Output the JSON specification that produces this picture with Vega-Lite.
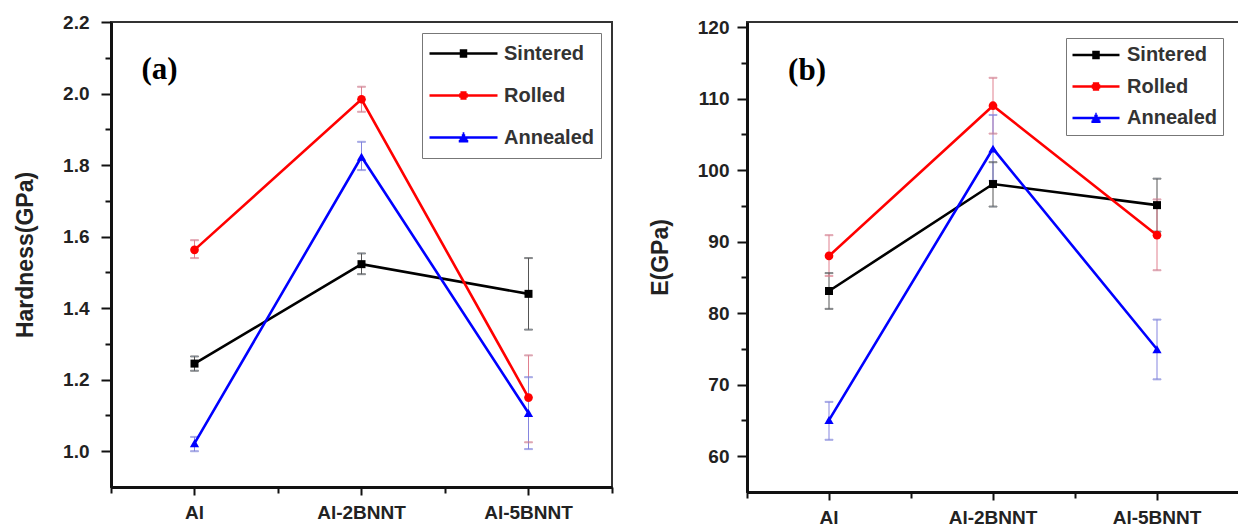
{
  "$schema": "https://vega.github.io/schema/vega-lite/v6.json",
  "padding": {"top": 12, "left": 13, "right": 0, "bottom": 0},
  "background": "white",
  "datasets": {
    "hard": [
      {"sample": "Al", "process": "Sintered", "value": 1.245, "lo": 1.225, "hi": 1.265},
      {"sample": "Al-2BNNT", "process": "Sintered", "value": 1.523, "lo": 1.495, "hi": 1.553},
      {"sample": "Al-5BNNT", "process": "Sintered", "value": 1.44, "lo": 1.34, "hi": 1.54},
      {"sample": "Al", "process": "Rolled", "value": 1.563, "lo": 1.54, "hi": 1.59},
      {"sample": "Al-2BNNT", "process": "Rolled", "value": 1.984, "lo": 1.949, "hi": 2.019},
      {"sample": "Al-5BNNT", "process": "Rolled", "value": 1.15, "lo": 1.025, "hi": 1.268},
      {"sample": "Al", "process": "Annealed", "value": 1.022, "lo": 1.0, "hi": 1.04},
      {"sample": "Al-2BNNT", "process": "Annealed", "value": 1.823, "lo": 1.786, "hi": 1.865},
      {"sample": "Al-5BNNT", "process": "Annealed", "value": 1.107, "lo": 1.006, "hi": 1.207}
    ],
    "mod": [
      {"sample": "Al", "process": "Sintered", "value": 83.1, "lo": 80.6, "hi": 85.6},
      {"sample": "Al-2BNNT", "process": "Sintered", "value": 98.05, "lo": 94.9, "hi": 101.1},
      {"sample": "Al-5BNNT", "process": "Sintered", "value": 95.1, "lo": 91.4, "hi": 98.8},
      {"sample": "Al", "process": "Rolled", "value": 88.0, "lo": 85.2, "hi": 90.9},
      {"sample": "Al-2BNNT", "process": "Rolled", "value": 109.0, "lo": 105.1, "hi": 112.9},
      {"sample": "Al-5BNNT", "process": "Rolled", "value": 90.9, "lo": 86.0, "hi": 95.9},
      {"sample": "Al", "process": "Annealed", "value": 65.05, "lo": 62.3, "hi": 67.6},
      {"sample": "Al-2BNNT", "process": "Annealed", "value": 103.0, "lo": 98.5, "hi": 107.7},
      {"sample": "Al-5BNNT", "process": "Annealed", "value": 74.95, "lo": 70.75, "hi": 79.1}
    ]
  },
  "config": {
    "font": "Liberation Sans",
    "view": {"stroke": "#333", "strokeWidth": 2},
    "axis": {
      "labelFont": "Liberation Sans", "labelFontWeight": "bold", "labelFontSize": 19, "labelColor": "#222",
      "titleFont": "Liberation Sans", "titleFontWeight": "bold", "titleFontSize": 23, "titleColor": "#222",
      "grid": false, "domainColor": "#111", "domainWidth": 3, "tickColor": "#111", "tickWidth": 2
    }
  },
  "resolve": {
    "scale": {"x": "independent", "y": "independent", "color": "independent", "shape": "independent", "stroke": "independent"},
    "legend": {"color": "independent", "shape": "independent"}
  },
  "spacing": 34,
  "hconcat": [
    {
      "width": 501, "height": 465,
      "data": {"name": "hard"},
      "resolve": {"axis": {"x": "independent", "y": "independent"}},
      "layer": [
        {
          "mark": {"type": "rule", "strokeWidth": 1},
          "encoding": {
            "x": {"field": "sample", "type": "nominal", "axis": {"orient": "bottom", "tickBand": "extent", "labels": false, "domain": false, "tickSize": 6, "title": null}},
            "y": {"field": "lo", "type": "quantitative", "axis": {"orient": "left", "values": [1.1, 1.3, 1.5, 1.7, 1.9, 2.1], "labels": false, "domain": false, "tickSize": 6, "title": null}},
            "y2": {"field": "hi"},
            "stroke": {"field": "process", "type": "nominal", "scale": {"domain": ["Annealed", "Rolled", "Sintered"], "range": ["#8585df", "#e0808f", "#555555"]}, "legend": null}
          }
        },
        {
          "mark": {"type": "tick", "thickness": 1, "size": 8},
          "encoding": {
            "x": {"field": "sample", "type": "nominal", "axis": null},
            "y": {"field": "lo", "type": "quantitative", "axis": null},
            "stroke": {"field": "process", "type": "nominal", "legend": null}
          }
        },
        {
          "mark": {"type": "tick", "thickness": 1, "size": 8},
          "encoding": {
            "x": {"field": "sample", "type": "nominal", "axis": null},
            "y": {"field": "hi", "type": "quantitative", "axis": null},
            "stroke": {"field": "process", "type": "nominal", "legend": null}
          }
        },
        {
          "mark": {"type": "line", "strokeWidth": 2.6},
          "encoding": {
            "x": {"field": "sample", "type": "nominal",
              "scale": {"type": "band", "domain": ["Al", "Al-2BNNT", "Al-5BNNT"], "paddingInner": 0, "paddingOuter": 0},
              "axis": {"orient": "bottom", "title": null, "labelAngle": 0, "tickSize": 8, "labelPadding": 8}},
            "y": {"field": "value", "type": "quantitative",
              "scale": {"domain": [0.9, 2.2], "nice": false, "zero": false},
              "axis": {"orient": "left", "title": "Hardness(GPa)", "values": [1.0, 1.2, 1.4, 1.6, 1.8, 2.0, 2.2], "format": ".1f", "tickSize": 10, "labelPadding": 12, "titlePadding": 25}},
            "color": {"field": "process", "type": "nominal",
              "scale": {"domain": ["Sintered", "Rolled", "Annealed"], "range": ["#000000", "#ff0000", "#0000ff"]}}
          }
        },
        {
          "mark": {"type": "point", "filled": false, "opacity": 0, "size": 4624, "strokeWidth": 2.5},
          "encoding": {
            "x": {"field": "sample", "type": "nominal", "axis": null},
            "y": {"field": "value", "type": "quantitative", "axis": null},
            "color": {"field": "process", "type": "nominal",
              "legend": {"title": null, "orient": "top-right", "offset": 11, "padding": 6, "strokeColor": "#777", "fillColor": "white", "symbolSize": 4624, "clipHeight": 29, "rowPadding": 13, "labelFontSize": 20, "labelFont": "Liberation Sans", "labelFontWeight": "bold", "labelColor": "#333", "labelOffset": 5, "symbolStrokeWidth": 2.5, "symbolOpacity": 1}},
            "shape": {"field": "process", "type": "nominal",
              "scale": {"domain": ["Sintered", "Rolled", "Annealed"], "range": [
                "M-1,0H1M-0.11,-0.09H0.11M-0.11,-0.03H0.11M-0.11,0.03H0.11M-0.11,0.09H0.11",
                "M-1,0H1M-0.09,-0.09H0.09M-0.125,-0.03H0.125M-0.125,0.03H0.125M-0.09,0.09H0.09",
                "M-1,0H1M-0.025,-0.12H0.025M-0.05,-0.06H0.05M-0.085,0H0.085M-0.115,0.06H0.115M-0.14,0.11H0.14"]},
              "legend": {"title": null, "orient": "top-right", "offset": 11, "padding": 6, "strokeColor": "#777", "fillColor": "white", "symbolSize": 4624, "clipHeight": 29, "rowPadding": 13, "labelFontSize": 20, "labelFont": "Liberation Sans", "labelFontWeight": "bold", "labelColor": "#333", "labelOffset": 5, "symbolStrokeWidth": 2.5, "symbolOpacity": 1}}
          }
        },
        {
          "transform": [{"filter": "datum.process === 'Sintered'"}],
          "mark": {"type": "point", "shape": "square", "filled": true, "opacity": 1, "size": 64, "color": "#000000"},
          "encoding": {
            "x": {"field": "sample", "type": "nominal", "axis": null},
            "y": {"field": "value", "type": "quantitative", "axis": null}
          }
        },
        {
          "transform": [{"filter": "datum.process === 'Rolled'"}],
          "mark": {"type": "point", "shape": "circle", "filled": true, "opacity": 1, "size": 75, "color": "#ff0000"},
          "encoding": {
            "x": {"field": "sample", "type": "nominal", "axis": null},
            "y": {"field": "value", "type": "quantitative", "axis": null}
          }
        },
        {
          "transform": [{"filter": "datum.process === 'Annealed'"}],
          "mark": {"type": "point", "shape": "triangle-up", "filled": true, "opacity": 1, "size": 85, "color": "#0000ff"},
          "encoding": {
            "x": {"field": "sample", "type": "nominal", "axis": null},
            "y": {"field": "value", "type": "quantitative", "axis": null}
          }
        },
        {
          "data": {"values": [{"label": "(a)"}]},
          "mark": {"type": "text", "font": "Liberation Serif", "fontWeight": "bold", "fontSize": 31, "dx": -35, "color": "black", "baseline": "middle", "align": "center"},
          "encoding": {
            "x": {"datum": "Al", "type": "nominal", "axis": null},
            "y": {"datum": 2.065, "type": "quantitative", "axis": null},
            "text": {"field": "label"}
          }
        }
      ]
    },
    {
      "width": 492, "height": 470,
      "data": {"name": "mod"},
      "resolve": {"axis": {"x": "independent", "y": "independent"}},
      "layer": [
        {
          "mark": {"type": "rule", "strokeWidth": 1},
          "encoding": {
            "x": {"field": "sample", "type": "nominal", "axis": {"orient": "bottom", "tickBand": "extent", "labels": false, "domain": false, "tickSize": 6, "title": null}},
            "y": {"field": "lo", "type": "quantitative", "axis": {"orient": "left", "values": [65, 75, 85, 95, 105, 115], "labels": false, "domain": false, "tickSize": 6, "title": null}},
            "y2": {"field": "hi"},
            "stroke": {"field": "process", "type": "nominal", "scale": {"domain": ["Annealed", "Rolled", "Sintered"], "range": ["#8585df", "#e0808f", "#555555"]}, "legend": null}
          }
        },
        {
          "mark": {"type": "tick", "thickness": 1, "size": 8},
          "encoding": {
            "x": {"field": "sample", "type": "nominal", "axis": null},
            "y": {"field": "lo", "type": "quantitative", "axis": null},
            "stroke": {"field": "process", "type": "nominal", "legend": null}
          }
        },
        {
          "mark": {"type": "tick", "thickness": 1, "size": 8},
          "encoding": {
            "x": {"field": "sample", "type": "nominal", "axis": null},
            "y": {"field": "hi", "type": "quantitative", "axis": null},
            "stroke": {"field": "process", "type": "nominal", "legend": null}
          }
        },
        {
          "mark": {"type": "line", "strokeWidth": 2.6},
          "encoding": {
            "x": {"field": "sample", "type": "nominal",
              "scale": {"type": "band", "domain": ["Al", "Al-2BNNT", "Al-5BNNT"], "paddingInner": 0, "paddingOuter": 0},
              "axis": {"orient": "bottom", "title": null, "labelAngle": 0, "tickSize": 8, "labelPadding": 8}},
            "y": {"field": "value", "type": "quantitative",
              "scale": {"domain": [55, 120.7], "nice": false, "zero": false},
              "axis": {"orient": "left", "title": "E(GPa)", "values": [60, 70, 80, 90, 100, 110, 120], "format": "d", "tickSize": 10, "labelPadding": 8, "titlePadding": 25}},
            "color": {"field": "process", "type": "nominal",
              "scale": {"domain": ["Sintered", "Rolled", "Annealed"], "range": ["#000000", "#ff0000", "#0000ff"]}}
          }
        },
        {
          "mark": {"type": "point", "filled": false, "opacity": 0, "size": 2209, "strokeWidth": 2.5},
          "encoding": {
            "x": {"field": "sample", "type": "nominal", "axis": null},
            "y": {"field": "value", "type": "quantitative", "axis": null},
            "color": {"field": "process", "type": "nominal",
              "legend": {"title": null, "orient": "top-right", "offset": 16, "padding": 5, "strokeColor": "#777", "fillColor": "white", "symbolSize": 2209, "clipHeight": 24, "rowPadding": 7.5, "labelFontSize": 20, "labelFont": "Liberation Sans", "labelFontWeight": "bold", "labelColor": "#333", "labelOffset": 6, "symbolStrokeWidth": 2.5, "symbolOpacity": 1}},
            "shape": {"field": "process", "type": "nominal",
              "scale": {"domain": ["Sintered", "Rolled", "Annealed"], "range": [
                "M-1,0H1M-0.16,-0.13H0.16M-0.16,-0.043H0.16M-0.16,0.043H0.16M-0.16,0.13H0.16",
                "M-1,0H1M-0.135,-0.13H0.135M-0.18,-0.043H0.18M-0.18,0.043H0.18M-0.135,0.13H0.135",
                "M-1,0H1M-0.03,-0.17H0.03M-0.072,-0.085H0.072M-0.115,0H0.115M-0.157,0.085H0.157M-0.195,0.16H0.195"]},
              "legend": {"title": null, "orient": "top-right", "offset": 16, "padding": 5, "strokeColor": "#777", "fillColor": "white", "symbolSize": 2209, "clipHeight": 24, "rowPadding": 7.5, "labelFontSize": 20, "labelFont": "Liberation Sans", "labelFontWeight": "bold", "labelColor": "#333", "labelOffset": 6, "symbolStrokeWidth": 2.5, "symbolOpacity": 1}}
          }
        },
        {
          "transform": [{"filter": "datum.process === 'Sintered'"}],
          "mark": {"type": "point", "shape": "square", "filled": true, "opacity": 1, "size": 64, "color": "#000000"},
          "encoding": {
            "x": {"field": "sample", "type": "nominal", "axis": null},
            "y": {"field": "value", "type": "quantitative", "axis": null}
          }
        },
        {
          "transform": [{"filter": "datum.process === 'Rolled'"}],
          "mark": {"type": "point", "shape": "circle", "filled": true, "opacity": 1, "size": 75, "color": "#ff0000"},
          "encoding": {
            "x": {"field": "sample", "type": "nominal", "axis": null},
            "y": {"field": "value", "type": "quantitative", "axis": null}
          }
        },
        {
          "transform": [{"filter": "datum.process === 'Annealed'"}],
          "mark": {"type": "point", "shape": "triangle-up", "filled": true, "opacity": 1, "size": 85, "color": "#0000ff"},
          "encoding": {
            "x": {"field": "sample", "type": "nominal", "axis": null},
            "y": {"field": "value", "type": "quantitative", "axis": null}
          }
        },
        {
          "data": {"values": [{"label": "(b)"}]},
          "mark": {"type": "text", "font": "Liberation Serif", "fontWeight": "bold", "fontSize": 31, "dx": -22, "color": "black", "baseline": "middle", "align": "center"},
          "encoding": {
            "x": {"datum": "Al", "type": "nominal", "axis": null},
            "y": {"datum": 113.9, "type": "quantitative", "axis": null},
            "text": {"field": "label"}
          }
        }
      ]
    }
  ]
}
